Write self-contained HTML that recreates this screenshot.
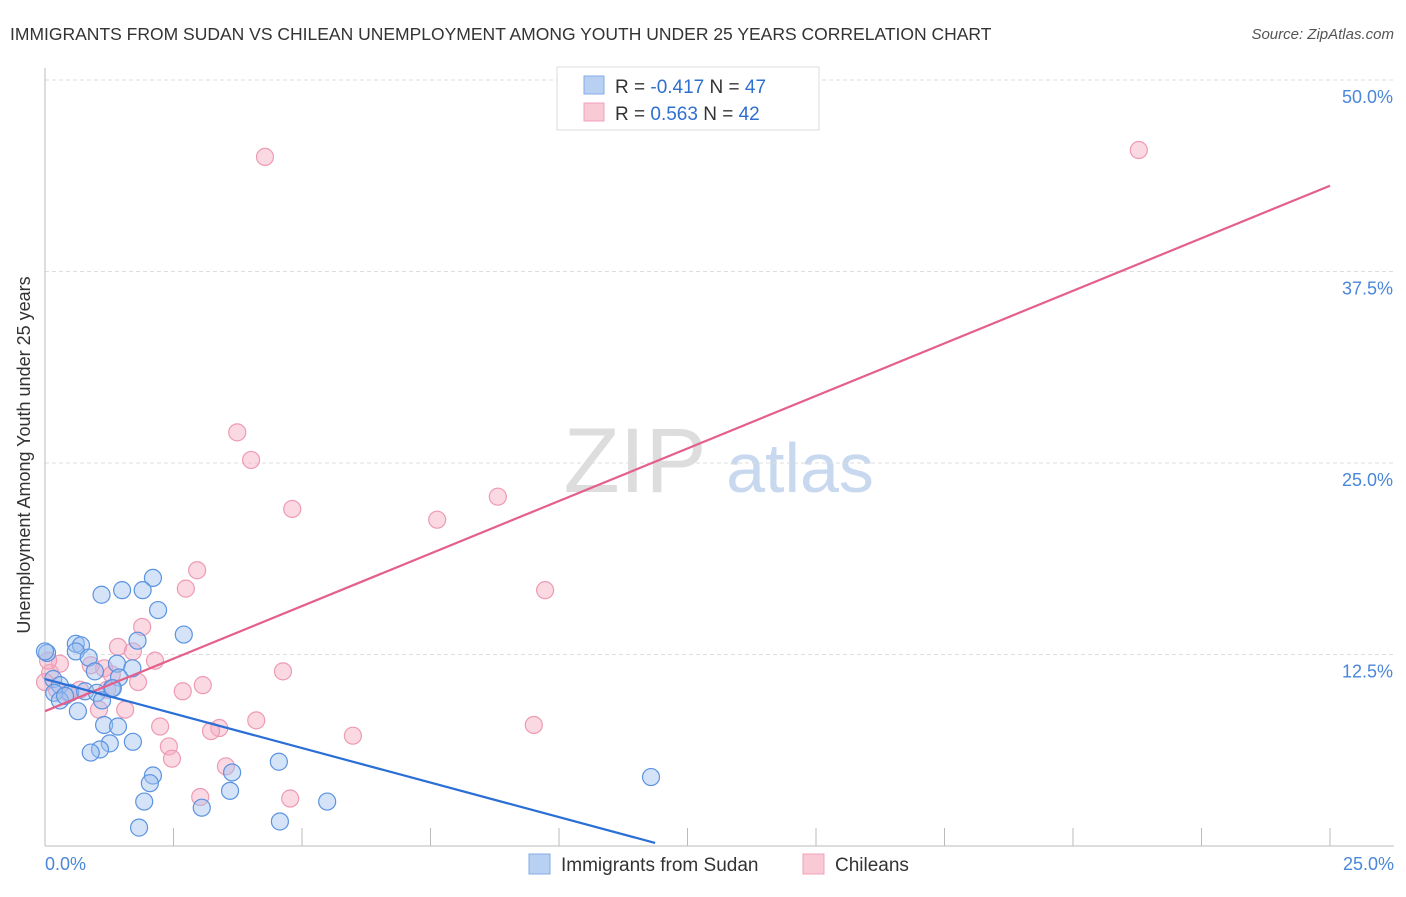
<!DOCTYPE html>
<html><head><meta charset="utf-8"><style>
body{margin:0;background:#fff;font-family:"Liberation Sans",sans-serif}
svg text{font-family:"Liberation Sans",sans-serif}
</style></head><body>
<svg width="1406" height="892">
<text x="10" y="40" font-size="17.5" fill="#333">IMMIGRANTS FROM SUDAN VS CHILEAN UNEMPLOYMENT AMONG YOUTH UNDER 25 YEARS CORRELATION CHART</text>
<text x="1394" y="39" font-size="15" fill="#555" font-style="italic" text-anchor="end">Source: ZipAtlas.com</text>
<text x="635" y="492" font-size="92" fill="#ddd" font-family="Liberation Serif" text-anchor="middle">ZIP</text>
<text x="800" y="492" font-size="70" fill="#c7d8ef" text-anchor="middle">atlas</text>
<g id="grid"></g>
<g id="axes"></g>
<g id="pts"></g>
<g id="lines"></g>
<text x="30" y="455" font-size="18" fill="#333" text-anchor="middle" transform="rotate(-90 30 455)">Unemployment Among Youth under 25 years</text>
<g>
<rect x="557" y="67" width="262" height="63" fill="#fff" stroke="#ddd"/>
<rect x="584" y="76" width="20" height="18" fill="#b8d1f3" stroke="#86acea"/>
<rect x="584" y="103" width="20" height="18" fill="#f9c9d6" stroke="#f0a3b8"/>
<text x="615" y="93" font-size="19" fill="#333">R = <tspan fill="#2f6fcf">-0.417</tspan>   N = <tspan fill="#2f6fcf">47</tspan></text>
<text x="615" y="120" font-size="19" fill="#333">R =  <tspan fill="#2f6fcf">0.563</tspan>   N = <tspan fill="#2f6fcf">42</tspan></text>
</g>
<g>
<rect x="529" y="854" width="21" height="20" fill="#b8d1f3" stroke="#86acea"/>
<text x="561" y="871" font-size="19" fill="#333">Immigrants from Sudan</text>
<rect x="803" y="854" width="21" height="20" fill="#f9c9d6" stroke="#f0a3b8"/>
<text x="835" y="871" font-size="19" fill="#333">Chileans</text>
</g>
</svg>
<script>
const xTicks=[0,2.5,5,7.5,10,12.5,15,17.5,20,22.5,25];
const yTicks=[12.5,25,37.5,50];
const yTickLabels=["12.5%","25.0%","37.5%","50.0%"];
const sudanX=[1.1,1.5,2.1,1.9,2.2,2.7,0.6,0.7,1.8,0.6,0.85,1.4,1.7,0.97,0.16,0.04,0.29,0.49,0.18,1.44,1.3,0.78,1.01,1.32,0.29,0.64,1.15,1.42,1.71,1.26,1.07,0.89,2.1,2.04,4.55,3.64,3.6,1.93,3.05,5.49,4.57,1.83,11.79,1.11,0.39,0.0];
const sudanY=[16.4,16.7,17.5,16.7,15.4,13.8,13.2,13.1,13.4,12.7,12.3,11.9,11.6,11.4,10.9,12.6,10.5,10.0,10.0,11.0,10.3,10.1,10.0,10.3,9.5,8.8,7.9,7.8,6.8,6.7,6.3,6.1,4.6,4.1,5.5,4.8,3.6,2.9,2.5,2.9,1.6,1.2,4.5,9.5,9.8,12.7];
const chileX=[4.28,21.28,3.74,4.01,4.81,8.81,7.63,9.73,2.96,2.74,1.89,1.42,1.71,2.14,4.63,3.07,2.68,1.81,1.15,0.89,0.1,0.29,0.45,1.05,1.56,2.24,3.39,3.23,4.11,5.99,9.51,2.41,2.47,3.52,3.02,4.77,0.23,0.68,1.21,0.06,1.3,0.0];
const chileY=[44.98,45.43,27.0,25.2,22.0,22.8,21.3,16.7,18.0,16.8,14.3,13.0,12.7,12.1,11.4,10.5,10.1,10.7,11.6,11.8,11.3,11.9,10.0,8.9,8.9,7.8,7.7,7.5,8.2,7.2,7.9,6.5,5.7,5.2,3.2,3.1,10.2,10.2,10.2,12.1,11.2,10.7];
const sudanLine=[[0,10.9],[11.87,0.2]];
const chileLine=[[0,8.8],[25,43.1]];
const X=v=>45+v*51.4, Y=v=>846-v*15.32;
const NS='http://www.w3.org/2000/svg';
function mk(t,a,p){const e=document.createElementNS(NS,t);for(const k in a)e.setAttribute(k,a[k]);document.getElementById(p).appendChild(e);return e;}
yTicks.forEach((t,i)=>{
 const l=mk('line',{x1:45,x2:1394,y1:Y(t),y2:Y(t),stroke:'#ddd','stroke-dasharray':'4 3'},'grid');
 
 
 const tx=mk('text',{x:1393,y:Y(t)+23,'text-anchor':'end','font-size':18,fill:'#4a86d9'},'axes');
 tx.textContent=yTickLabels[i];
 
 
});
const ax=mk('line',{x1:45,x2:45,y1:68,y2:846,stroke:'#bbb'},'axes');


const bx=mk('line',{x1:45,x2:1394,y1:846,y2:846,stroke:'#bbb'},'axes');


xTicks.forEach(t=>{
 const l=mk('line',{x1:X(t),x2:X(t),y1:828,y2:846,stroke:'#bbb'},'axes');
 
 
});
[[0,'0.0%','start',45],[25,'25.0%','end',1394]].forEach(a=>{
 const tx=mk('text',{x:a[3],y:870,'text-anchor':a[2],'font-size':18,fill:'#4a86d9'},'axes');
 tx.textContent=a[1];
 
 
});
chileX.forEach((v,i)=>{
 const c=mk('circle',{cx:X(v),cy:Y(chileY[i]),r:8.5,fill:'rgba(246,170,194,0.45)',stroke:'#ee9ab3','stroke-width':1.2},'pts');
 
 
});
sudanX.forEach((v,i)=>{
 const c=mk('circle',{cx:X(v),cy:Y(sudanY[i]),r:8.5,fill:'rgba(160,194,240,0.45)',stroke:'#5b93e0','stroke-width':1.2},'pts');
 
 
});
const l1=mk('line',{x1:X(chileLine[0][0]),y1:Y(chileLine[0][1]),x2:X(chileLine[1][0]),y2:Y(chileLine[1][1]),stroke:'#e4608a','stroke-width':2.2},'lines');


const l2=mk('line',{x1:X(sudanLine[0][0]),y1:Y(sudanLine[0][1]),x2:X(sudanLine[1][0]),y2:Y(sudanLine[1][1]),stroke:'#2a6fd6','stroke-width':2.2},'lines');


</script>
</body></html>
